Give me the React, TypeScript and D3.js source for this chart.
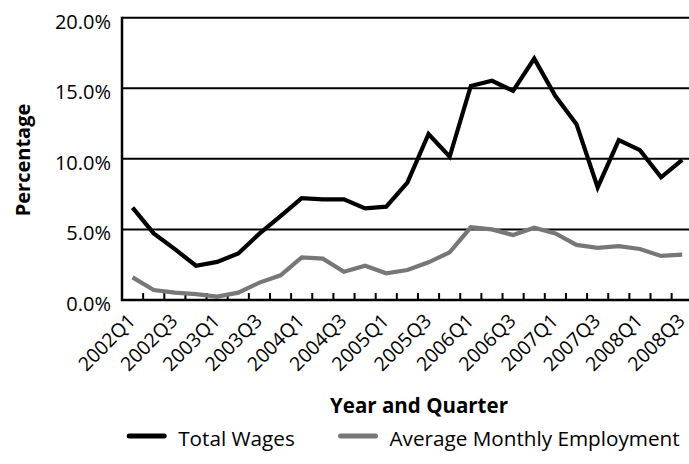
import React from "react";
import * as d3 from "d3";

const quarters = [
  "2002Q1","2002Q2","2002Q3","2002Q4",
  "2003Q1","2003Q2","2003Q3","2003Q4",
  "2004Q1","2004Q2","2004Q3","2004Q4",
  "2005Q1","2005Q2","2005Q3","2005Q4",
  "2006Q1","2006Q2","2006Q3","2006Q4",
  "2007Q1","2007Q2","2007Q3","2007Q4",
  "2008Q1","2008Q2","2008Q3",
];
const totalWages = [6.54, 4.72, 3.6, 2.43, 2.7, 3.3, 4.7, 5.95, 7.22, 7.13, 7.13, 6.49, 6.61, 8.31, 11.76, 10.15, 15.16, 15.53, 14.82, 17.1, 14.45, 12.46, 7.98, 11.33, 10.62, 8.69, 9.92];
const avgEmployment = [1.6, 0.71, 0.52, 0.42, 0.24, 0.52, 1.23, 1.75, 3.02, 2.93, 2.0, 2.43, 1.89, 2.12, 2.67, 3.38, 5.15, 5.0, 4.6, 5.12, 4.72, 3.9, 3.7, 3.82, 3.61, 3.12, 3.21];
const yTicks = [0, 5, 10, 15, 20];
const seriesNames = ["Total Wages", "Average Monthly Employment"];
const seriesColors = ["#000000", "#777777"];

const W = 689, H = 464;
const L = 122, T = 17.7, B = 300;
const R = L + 27 * 21.14;
const FONT = "'Open Sans', sans-serif";

export default function App() {
  const x = d3.scaleBand<string>().domain(quarters).range([L, R]).padding(0);
  const y = d3.scaleLinear().domain([0, 20]).range([B, T]);
  const cx = (q: string) => (x(q) as number) + x.bandwidth() / 2;
  const line = d3.line<number>().x((_, i) => cx(quarters[i])).y((d) => y(d));
  const series = [totalWages, avgEmployment];
  const labelQs = quarters.filter((_, i) => i % 2 === 0);
  const legendX = [126.7, 338];

  return (
    <svg width={W} height={H} style={{ position: "absolute", left: 0, top: 0, background: "#fff" }} fontFamily={FONT}>
      {yTicks.filter((t) => t > 0).map((t) => (
        <line key={t} x1={L} x2={W + 10} y1={y(t)} y2={y(t)} stroke="#000" strokeWidth={2} />
      ))}
      {yTicks.map((t) => (
        <text key={"l" + t} x={111} y={y(t) + 11} textAnchor="end" fontSize={20}>
          {t.toFixed(1) + "%"}
        </text>
      ))}
      {quarters.slice(1).map((q) => (
        <line key={"tk" + q} x1={x(q)} x2={x(q)} y1={B} y2={B - 7} stroke="#000" strokeWidth={2} />
      ))}
      {series.map((s, i) => (
        <path key={i} d={line(s) || ""} fill="none" stroke={seriesColors[i]} strokeWidth={4.2} strokeLinejoin="miter" />
      ))}
      <line x1={L} x2={L} y1={T - 1} y2={B + 1} stroke="#000" strokeWidth={2.5} />
      <line x1={L - 1} x2={W + 10} y1={B} y2={B} stroke="#000" strokeWidth={2.5} />
      {labelQs.map((q) => {
        const ax = cx(q) + 4;
        const ay = 322;
        return (
          <text key={"xl" + q} x={ax} y={ay} textAnchor="end" fontSize={19.5} transform={`rotate(-45 ${ax} ${ay})`}>
            {q}
          </text>
        );
      })}
      <text x={419} y={413} textAnchor="middle" fontSize={20.5} fontWeight="bold">Year and Quarter</text>
      <text x={0} y={0} textAnchor="middle" fontSize={20} fontWeight="bold" transform="translate(30 160) rotate(-90)">Percentage</text>
      {seriesNames.map((n, i) => {
        const lx = legendX[i];
        return (
          <g key={n}>
            <line x1={lx + 2.5} x2={lx + 37.5} y1={436} y2={436} stroke={seriesColors[i]} strokeWidth={5} strokeLinecap="round" />
            <text x={lx + 51.5} y={446} fontSize={20.7}>{n}</text>
          </g>
        );
      })}
    </svg>
  );
}
